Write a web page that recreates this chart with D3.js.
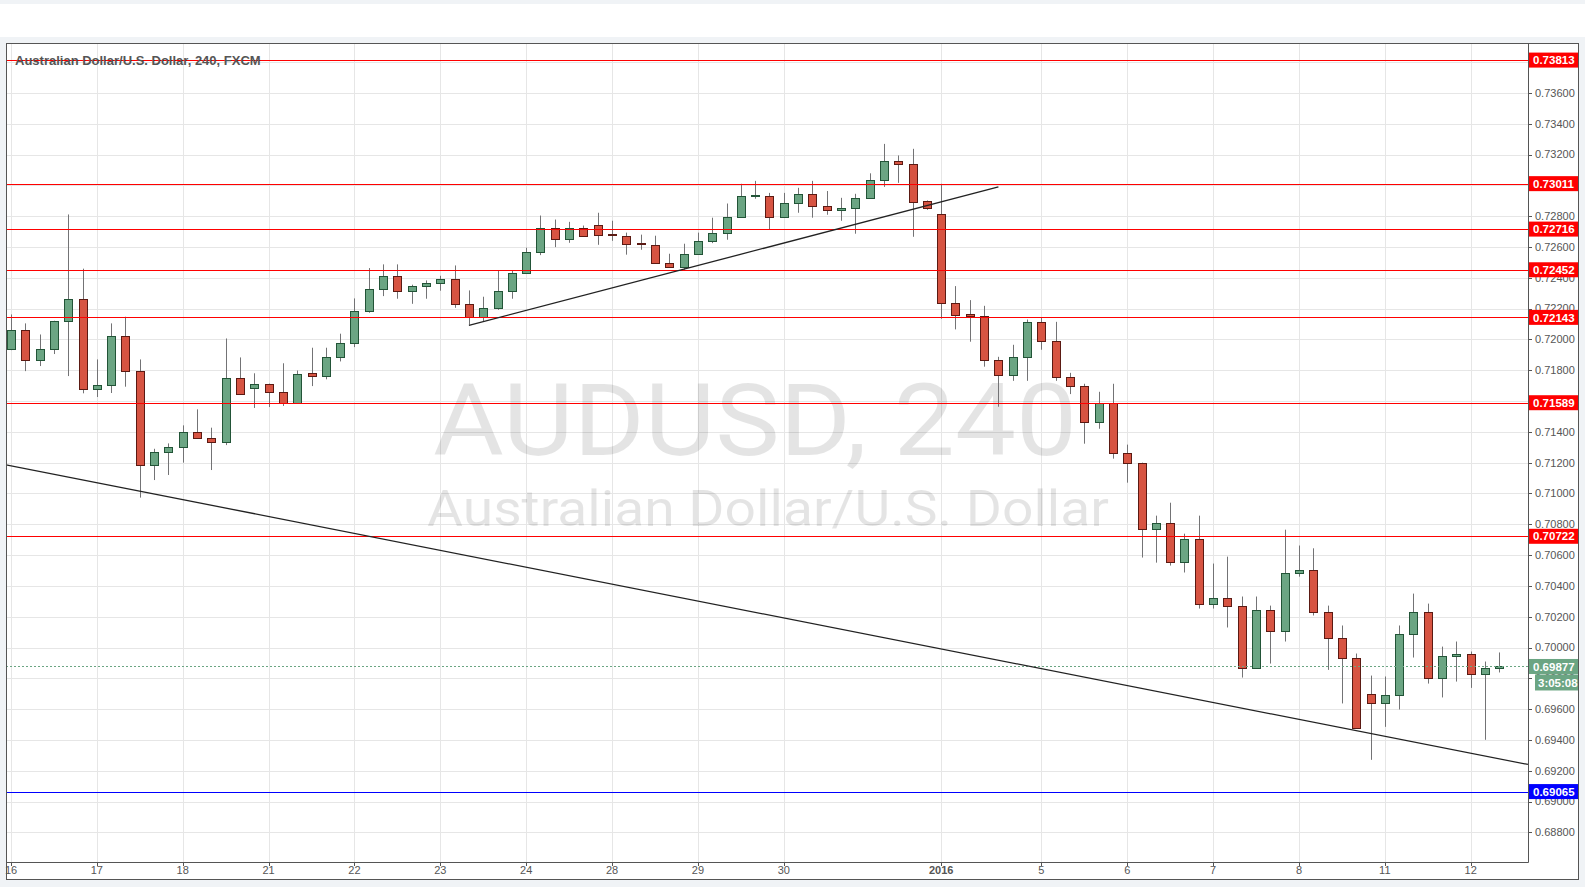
<!DOCTYPE html>
<html><head><meta charset="utf-8">
<script src="https://cdn.jsdelivr.net/npm/d3@7"></script>
<style>html,body{margin:0;padding:0;background:#f0f3f6;} svg{display:block;}</style>
</head><body><svg id="c" width="1585" height="887"></svg>
<script>
// ---- data: AUDUSD 240 candles (open, high, low, close) ----
const opens  = [0.71935,0.72063,0.71868,0.71939,0.72121,0.72264,0.71680,0.71706,0.72023,0.71797,
0.71187,0.71271,0.71303,0.71401,0.71362,0.71336,0.71752,0.71687,0.71713,0.71661,
0.71590,0.71780,0.71765,0.71883,0.71978,0.72186,0.72328,0.72413,0.72316,0.72348,
0.72368,0.72394,0.72231,0.72147,0.72205,0.72316,0.72432,0.72569,0.72725,0.72654,
0.72725,0.72745,0.72683,0.72673,0.72624,0.72614,0.72497,0.72471,0.72556,0.72640,
0.72692,0.72796,0.72929,0.72932,0.72796,0.72887,0.72945,0.72867,0.72841,0.72854,
0.72919,0.73036,0.73160,0.73140,0.72896,0.72815,0.72237,0.72163,0.72154,0.71868,
0.71770,0.71887,0.72114,0.71991,0.71757,0.71699,0.71465,0.71589,0.71265,0.71200,
0.70772,0.70811,0.70558,0.70707,0.70285,0.70324,0.70272,0.69864,0.70246,0.70110,
0.70486,0.70506,0.70233,0.70065,0.69929,0.69699,0.69637,0.69695,0.70091,0.70233,
0.69799,0.69942,0.69955,0.69825,0.69864];
const highs  = [0.72162,0.72104,0.72032,0.72121,0.72811,0.72459,0.71870,0.72104,0.72147,0.71870,
0.71290,0.71325,0.71442,0.71546,0.71427,0.72006,0.71883,0.71780,0.71713,0.71845,
0.71798,0.71946,0.71946,0.72037,0.72266,0.72463,0.72487,0.72487,0.72355,0.72383,
0.72413,0.72480,0.72318,0.72277,0.72448,0.72448,0.72595,0.72804,0.72778,0.72763,
0.72739,0.72822,0.72770,0.72693,0.72680,0.72673,0.72556,0.72621,0.72693,0.72790,
0.72882,0.73010,0.73029,0.72951,0.72951,0.72984,0.73029,0.72963,0.72919,0.72945,
0.73078,0.73269,0.73194,0.73237,0.72902,0.73010,0.72346,0.72255,0.72218,0.71887,
0.71965,0.72129,0.72140,0.72114,0.71783,0.71712,0.71660,0.71712,0.71317,0.71200,
0.70856,0.70940,0.70739,0.70856,0.70545,0.70590,0.70331,0.70331,0.70272,0.70765,
0.70662,0.70644,0.70272,0.70143,0.69961,0.69818,0.69812,0.70143,0.70350,0.70285,
0.70006,0.70039,0.69974,0.69909,0.69968];
const lows   = [0.71930,0.71794,0.71827,0.71905,0.71762,0.71650,0.71626,0.71652,0.71693,0.70973,
0.71087,0.71120,0.71200,0.71362,0.71152,0.71314,0.71639,0.71555,0.71561,0.71568,
0.71590,0.71697,0.71741,0.71857,0.71950,0.72173,0.72281,0.72264,0.72231,0.72264,
0.72316,0.72205,0.72095,0.72119,0.72192,0.72264,0.72432,0.72547,0.72599,0.72627,
0.72673,0.72614,0.72640,0.72550,0.72582,0.72491,0.72471,0.72452,0.72556,0.72625,
0.72647,0.72790,0.72913,0.72712,0.72790,0.72822,0.72790,0.72809,0.72770,0.72686,
0.72919,0.72990,0.73016,0.72666,0.72841,0.72134,0.72065,0.71985,0.71823,0.71563,
0.71731,0.71731,0.71933,0.71731,0.71645,0.71323,0.71420,0.71226,0.71070,0.70584,
0.70551,0.70532,0.70487,0.70253,0.70253,0.70130,0.69805,0.69864,0.69896,0.70039,
0.70460,0.70208,0.69855,0.69637,0.69475,0.69271,0.69485,0.69598,0.69935,0.69766,
0.69676,0.69779,0.69738,0.69401,0.69838];
const closes = [0.72063,0.71868,0.71939,0.72121,0.72264,0.71680,0.71706,0.72023,0.71797,0.71187,
0.71271,0.71303,0.71401,0.71362,0.71336,0.71752,0.71648,0.71713,0.71661,0.71590,
0.71776,0.71765,0.71883,0.71978,0.72186,0.72328,0.72413,0.72316,0.72348,0.72368,
0.72394,0.72231,0.72147,0.72205,0.72316,0.72432,0.72569,0.72725,0.72654,0.72725,
0.72673,0.72680,0.72677,0.72621,0.72618,0.72497,0.72471,0.72556,0.72640,0.72692,
0.72796,0.72932,0.72935,0.72796,0.72887,0.72945,0.72867,0.72841,0.72854,0.72919,
0.73036,0.73157,0.73140,0.72893,0.72854,0.72237,0.72160,0.72154,0.71868,0.71770,
0.71887,0.72114,0.71991,0.71757,0.71699,0.71465,0.71589,0.71265,0.71200,0.70772,
0.70811,0.70558,0.70707,0.70285,0.70324,0.70272,0.69864,0.70246,0.70110,0.70486,
0.70506,0.70233,0.70065,0.69929,0.69475,0.69637,0.69695,0.70091,0.70233,0.69799,
0.69942,0.69955,0.69825,0.69864,0.69877];

// time axis: candle index where each day label sits
const tickIndex  = [0,6,12,18,24,30,36,42,48,54,65,72,78,84,90,96,102];
const tickLabels = ["16","17","18","21","22","23","24","28","29","30","2016","5","6","7","8","11","12"];

// price axis ticks
const yTicks = d3.range(0,26).map(i => +(0.688 + i*0.002).toFixed(3));

// horizontal levels
const redLevels  = [0.73813,0.73011,0.72716,0.72452,0.72143,0.71589,0.70722];
const blueLevels = [0.69065];
const lastPrice = 0.69877;
const countdown = "3:05:08";

// trend lines (candle index, price)
const trendStartIdx = [-0.35, 32];
const trendStartPx  = [0.71186, 0.72091];
const trendEndIdx   = [106.0, 69];
const trendEndPx    = [0.69241, 0.72990];

const title = "Australian Dollar/U.S. Dollar, 240, FXCM";
const wmSymbol = "AUDUSD, 240";
const wmName = "Australian Dollar/U.S. Dollar";

// ---- layout ----
const W=1585, H=887;
const L=6, T=43, R=1528, B=862, OR=1579, OB=880;
const svg = d3.select("#c");
const x = d3.scaleLinear().domain([0,104]).range([11,1499.3]);
const y = d3.scaleLinear().domain([0.688,0.736]).range([832.4,92.9]);
const fmt = d3.format(".5f");
const px = v => Math.round(v)+0.5;

svg.append("rect").attr("width",W).attr("height",H).attr("fill","#f0f3f6");
svg.append("rect").attr("x",0).attr("y",4).attr("width",W).attr("height",33).attr("fill","#ffffff");
svg.append("rect").attr("x",L).attr("y",T).attr("width",OR-L).attr("height",OB-T).attr("fill","#ffffff");

svg.append("clipPath").attr("id","plot").append("rect")
  .attr("x",L).attr("y",T).attr("width",R-L).attr("height",B-T);
const plot = svg.append("g").attr("clip-path","url(#plot)");

// grid
plot.append("g").selectAll("line").data(yTicks).join("line")
  .attr("x1",L).attr("x2",R).attr("y1",d=>px(y(d))).attr("y2",d=>px(y(d)))
  .attr("stroke","#e6e6e6").attr("stroke-width",1);
plot.append("g").selectAll("line").data(tickIndex).join("line")
  .attr("x1",d=>px(x(d))).attr("x2",d=>px(x(d))).attr("y1",T).attr("y2",B)
  .attr("stroke","#e6e6e6").attr("stroke-width",1);

// watermark
plot.append("text").text(wmSymbol).attr("x",755).attr("y",455)
  .attr("text-anchor","middle").attr("font-family","Roboto, 'Liberation Sans', sans-serif")
  .attr("font-size",100).attr("fill","rgba(0,0,0,0.105)")
  .attr("textLength",644).attr("lengthAdjust","spacingAndGlyphs");
plot.append("text").text(wmName).attr("x",768).attr("y",526)
  .attr("text-anchor","middle").attr("font-family","Roboto, 'Liberation Sans', sans-serif")
  .attr("font-size",50).attr("fill","rgba(0,0,0,0.105)")
  .attr("textLength",682).attr("lengthAdjust","spacingAndGlyphs");

// candles
const idx = d3.range(opens.length);
const cg = plot.append("g");
cg.selectAll("line").data(idx).join("line")
  .attr("x1",i=>px(x(i))).attr("x2",i=>px(x(i)))
  .attr("y1",i=>y(highs[i])).attr("y2",i=>y(lows[i]))
  .attr("stroke","#737375").attr("stroke-width",1);
cg.selectAll("rect").data(idx).join("rect")
  .attr("x",i=>Math.round(x(i))-4+0.5)
  .attr("width",8)
  .attr("y",i=>Math.round(y(Math.max(opens[i],closes[i])))+0.5)
  .attr("height",i=>Math.max(1,Math.round(y(Math.min(opens[i],closes[i])))-Math.round(y(Math.max(opens[i],closes[i])))))
  .attr("fill",i=>closes[i]>=opens[i]?"#6ba583":"#d75442")
  .attr("stroke",i=>closes[i]>=opens[i]?"#225437":"#5b1a13")
  .attr("stroke-width",1);

// horizontal levels
plot.append("g").selectAll("line").data(redLevels).join("line")
  .attr("x1",L).attr("x2",R).attr("y1",d=>px(y(d))).attr("y2",d=>px(y(d)))
  .attr("stroke","#ff0000").attr("stroke-width",1);
plot.append("g").selectAll("line").data(blueLevels).join("line")
  .attr("x1",L).attr("x2",R).attr("y1",d=>px(y(d))).attr("y2",d=>px(y(d)))
  .attr("stroke","#0000ff").attr("stroke-width",1);
plot.append("line").attr("x1",L).attr("x2",R)
  .attr("y1",px(y(lastPrice))).attr("y2",px(y(lastPrice)))
  .attr("stroke","#6ba583").attr("stroke-width",1).attr("stroke-dasharray","2,2");

// trend lines
plot.append("g").selectAll("line").data(d3.range(trendStartIdx.length)).join("line")
  .attr("x1",i=>x(trendStartIdx[i])).attr("y1",i=>y(trendStartPx[i]))
  .attr("x2",i=>x(trendEndIdx[i])).attr("y2",i=>y(trendEndPx[i]))
  .attr("stroke","#222").attr("stroke-width",1.3);

// title
svg.append("text").text(title).attr("x",15).attr("y",65)
  .attr("font-family","'Liberation Sans', Arial, sans-serif").attr("font-size",13)
  .attr("font-weight","bold").attr("fill","#555");

// price axis
const ya = svg.append("g");
ya.selectAll("line").data(yTicks).join("line")
  .attr("x1",R).attr("x2",R+4).attr("y1",d=>px(y(d))).attr("y2",d=>px(y(d)))
  .attr("stroke","#555");
ya.selectAll("text").data(yTicks).join("text")
  .attr("x",R+7).attr("y",d=>y(d)).attr("dy","0.35em")
  .attr("font-family","'Liberation Sans', Arial, sans-serif").attr("font-size",11)
  .attr("fill","#555").text(d=>fmt(d));

// time axis
const xa = svg.append("g");
xa.selectAll("line").data(tickIndex).join("line")
  .attr("x1",d=>px(x(d))).attr("x2",d=>px(x(d))).attr("y1",B).attr("y2",B+4)
  .attr("stroke","#555");
xa.selectAll("text").data(d3.range(tickIndex.length)).join("text")
  .attr("x",i=>x(tickIndex[i])).attr("y",874)
  .attr("text-anchor","middle")
  .attr("font-family","'Liberation Sans', Arial, sans-serif").attr("font-size",11)
  .attr("font-weight",i=>tickLabels[i].length===4?"bold":"normal")
  .attr("fill","#555").text(i=>tickLabels[i]);

// price labels
function priceTag(v,color){
  const g = svg.append("g");
  g.append("rect").attr("x",R).attr("y",y(v)-7.5).attr("width",OR-R-1).attr("height",15).attr("fill",color);
  g.append("text").attr("x",R+5).attr("y",y(v)).attr("dy","0.36em")
    .attr("font-family","'Liberation Sans', Arial, sans-serif").attr("font-size",11.5)
    .attr("font-weight","bold").attr("fill","#fff").text(fmt(v));
}
redLevels.forEach(v=>priceTag(v,"#ff0000"));
blueLevels.forEach(v=>priceTag(v,"#0000ff"));
priceTag(lastPrice,"#6ba583");
svg.append("rect").attr("x",R+7).attr("y",y(lastPrice)+8).attr("width",OR-R-8).attr("height",16).attr("fill","#6ba583");
svg.append("text").attr("x",R+10).attr("y",y(lastPrice)+16).attr("dy","0.36em")
  .attr("font-family","'Liberation Sans', Arial, sans-serif").attr("font-size",11.5)
  .attr("font-weight","bold").attr("fill","#fff").text(countdown);

// frames
svg.append("line").attr("x1",R+0.5).attr("x2",R+0.5).attr("y1",T).attr("y2",B+0.5).attr("stroke","#555");
svg.append("line").attr("x1",L).attr("x2",R+0.5).attr("y1",B+0.5).attr("y2",B+0.5).attr("stroke","#555");
svg.append("rect").attr("x",L+0.5).attr("y",T+0.5).attr("width",OR-L-1).attr("height",OB-T-1)
  .attr("fill","none").attr("stroke","#555");
</script></body></html>
